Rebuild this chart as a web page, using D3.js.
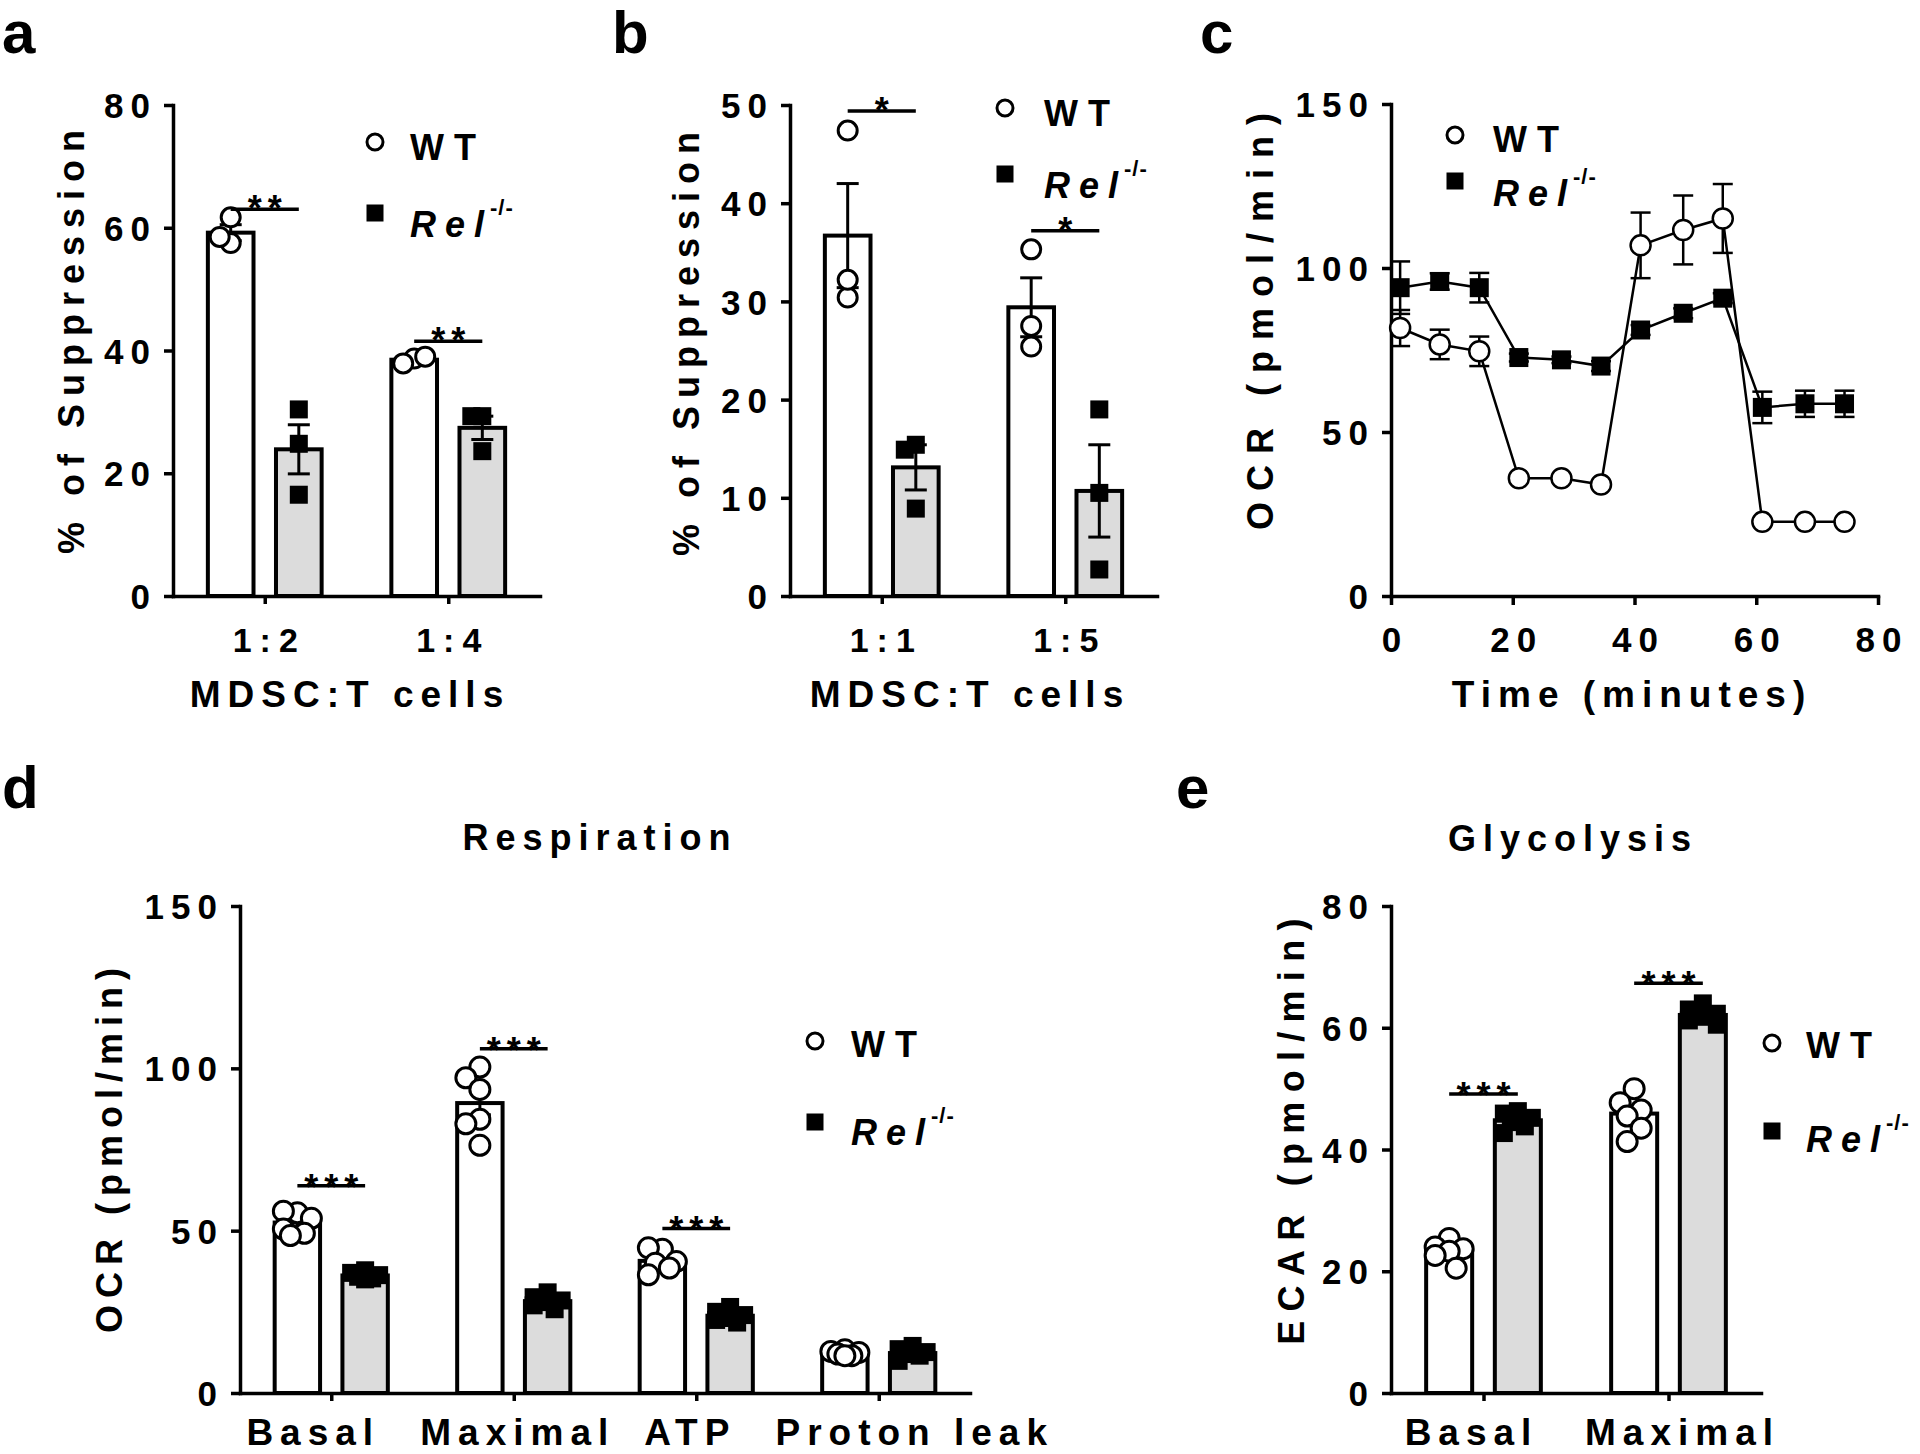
<!DOCTYPE html>
<html><head><meta charset="utf-8">
<script src="https://cdn.jsdelivr.net/npm/d3@7"></script>
<style>html,body{margin:0;padding:0;background:#fff;} svg{display:block;}</style>
</head><body><svg id="fig" width="1920" height="1454"></svg>
<script>
// ================= DATA =================
const seriesNames = ["WT", "Rel"];

// panel a
const aGroups = ["1:2", "1:4"];
const aTicks = [0, 20, 40, 60, 80];
const aWTMean = [59.2, 38.5];
const aWTSem = [1.3, 0.4];
const aWTPoints = [[61.7, 57.5, 58.5], [38.7, 37.9, 39.0]];
const aRelMean = [23.9, 27.4];
const aRelSem = [4.0, 1.9];
const aRelPoints = [[30.4, 24.8, 16.5], [29.3, 29.3, 23.6]];
const aSig = ["**", "**"];
const aSigY = [63, 41.5];

// panel b
const bGroups = ["1:1", "1:5"];
const bTicks = [0, 10, 20, 30, 40, 50];
const bWTMean = [36.7, 29.4];
const bWTSem = [5.3, 3.0];
const bWTPoints = [[47.4, 30.4, 32.2], [35.3, 25.4, 27.5]];
const bRelMean = [13.1, 10.7];
const bRelSem = [2.3, 4.7];
const bRelPoints = [[15.4, 14.9, 8.9], [19.0, 10.5, 2.7]];
const bSig = ["*", "*"];
const bSigY = [49.4, 37.2];

// panel c
const cTime = [1.5, 8, 14.5, 21, 28, 34.5, 41, 48, 54.5, 61, 68, 74.5];
const cXTicks = [0, 20, 40, 60, 80];
const cYTicks = [0, 50, 100, 150];
const cWT = [81.7, 76.7, 74.6, 35.9, 35.9, 34.0, 106.9, 111.6, 115.1, 22.6, 22.6, 22.6];
const cWTErr = [5.5, 4.5, 4.5, 1.0, 1.0, 1.0, 10.0, 10.5, 10.5, 0.8, 0.8, 0.8];
const cRel = [94.0, 95.9, 94.0, 72.7, 72.0, 70.1, 81.1, 86.2, 90.8, 57.5, 58.6, 58.6];
const cRelErr = [8.0, 2.5, 4.5, 1.2, 1.0, 1.5, 1.5, 1.5, 1.5, 4.8, 4.0, 4.0];

// panel d
const dGroups = ["Basal", "Maximal", "ATP", "Proton leak"];
const dTicks = [0, 50, 100, 150];
const dWTMean = [52.5, 89.3, 40.7, 12.3];
const dWTSem = [1.3, 3.6, 1.5, 0.4];
const dWTPoints = [[55.5, 56.0, 53.8, 50.5, 49.2, 48.5], [100.4, 97.1, 93.5, 84.3, 82.9, 76.3],
                   [44.3, 44.7, 40.5, 40.0, 38.5, 36.4], [13.3, 12.8, 12.5, 12.0, 11.5, 11.5]];
const dRelMean = [36.2, 28.3, 23.8, 12.3];
const dRelSem = [0.5, 1.0, 0.8, 0.6];
const dRelPoints = [[37.8, 37.0, 36.3, 35.8, 35.3, 35.0], [31.0, 29.5, 28.5, 28.0, 27.0, 25.8],
                    [26.5, 25.0, 24.0, 23.1, 22.5, 21.7], [14.5, 13.5, 12.6, 12.0, 11.5, 9.9]];
const dSig = ["***", "***", "***", ""];
const dSigY = [63.8, 106, 50.7, null];

// panel e
const eGroups = ["Basal", "Maximal"];
const eTicks = [0, 20, 40, 60, 80];
const eWTMean = [23.3, 45.9];
const eWTSem = [0.7, 1.3];
const eWTPoints = [[25.4, 24.0, 23.7, 23.3, 22.6, 20.5], [50.0, 47.7, 46.5, 45.5, 43.5, 41.3]];
const eRelMean = [44.8, 62.1];
const eRelSem = [0.5, 0.5];
const eRelPoints = [[46.3, 45.9, 45.2, 44.5, 43.8, 42.7], [64.0, 63.0, 62.3, 61.8, 61.2, 60.5]];
const eSig = ["***", "***"];
const eSigY = [49.1, 67.3];

// ================= DRAWING =================
const FONT = '"Liberation Sans", Arial, Helvetica, sans-serif';
const svg = d3.select("#fig");
svg.append("rect").attr("width", 1920).attr("height", 1454).attr("fill", "#fff");

function addText(g, x, y, s, size, ls, anchor) {
  return g.append("text").attr("x", x).attr("y", y)
    .attr("font-family", FONT).attr("font-weight", "bold")
    .attr("font-size", size).attr("letter-spacing", ls)
    .attr("text-anchor", anchor || "start").attr("fill", "#000").text(s);
}

function yTitle(g, x, y, s, ls) {
  g.append("text").attr("transform", `translate(${x},${y}) rotate(-90)`)
    .attr("font-family", FONT).attr("font-weight", "bold")
    .attr("font-size", 36).attr("letter-spacing", ls)
    .attr("text-anchor", "middle").attr("fill", "#000").text(s);
}

function legend(g, L) {
  g.append("circle").attr("cx", L.mx).attr("cy", L.cy).attr("r", 8)
    .attr("fill", "#fff").attr("stroke", "#000").attr("stroke-width", 3);
  g.append("rect").attr("x", L.mx - 8.5).attr("y", L.sy - 8.5).attr("width", 17).attr("height", 17).attr("fill", "#000");
  addText(g, L.tx, L.wtBase, seriesNames[0], 36, 10);
  const t = addText(g, L.tx, L.relBase, "", 36, 9);
  t.append("tspan").attr("font-style", "italic").text(seriesNames[1]);
  t.append("tspan").attr("font-size", 22).attr("letter-spacing", 1).attr("dy", -22).attr("dx", -3).text("-/-");
}

function swarm(vals, y, spread, steps, r) {
  const placed = [];
  const cands = [0];
  for (let k = 1; k <= steps; k++) cands.push(-k * spread, k * spread);
  return vals.map(v => {
    const py = y(v);
    let best = 0, bestD = -1;
    for (const c of cands) {
      let md = Infinity;
      for (const p of placed) md = Math.min(md, Math.hypot(p.dx - c, p.py - py));
      if (md >= 2 * r * 0.9) { best = c; bestD = md; break; }
      if (md > bestD) { bestD = md; best = c; }
    }
    placed.push({ dx: best, py });
    return { v, dx: best };
  });
}

function styleAxis(ax) {
  ax.attr("font-size", null).attr("font-family", null);
  ax.selectAll("path, line").attr("stroke", "#000").attr("stroke-width", 3.5);
  ax.select("path.domain").attr("stroke-linecap", "square");
}

function barPanel(D, L) {
  const g = svg.append("g");
  const y = d3.scaleLinear().domain([0, d3.max(D.ticks)]).range([L.yBot, L.yTop]);
  const x = d3.scalePoint().domain(D.groups).range([L.axisX, L.xEnd]).padding(0.5);
  const step = x.step();
  const xs = d3.scaleBand().domain(seriesNames).range([-0.31 * step, 0.31 * step]).paddingInner(0.33);
  const bw = xs.bandwidth();

  const rows = [];
  D.groups.forEach((grp, i) => {
    rows.push({ g: grp, s: "WT", mean: D.wtMean[i], sem: D.wtSem[i], pts: D.wtPts[i] });
    rows.push({ g: grp, s: "Rel", mean: D.relMean[i], sem: D.relSem[i], pts: D.relPts[i] });
  });
  const cx = d => x(d.g) + xs(d.s) + bw / 2;

  // bars
  g.selectAll("rect.bar").data(rows).join("rect").attr("class", "bar")
    .attr("x", d => x(d.g) + xs(d.s)).attr("width", bw)
    .attr("y", d => y(d.mean)).attr("height", d => y(0) - y(d.mean))
    .attr("fill", d => d.s === "WT" ? "#fff" : "#dcdcdc")
    .attr("stroke", "#000").attr("stroke-width", 4);

  // axes
  const ya = g.append("g").attr("transform", `translate(${L.axisX},0)`)
    .call(d3.axisLeft(y).tickValues(D.ticks).tickSize(9).tickSizeOuter(0).tickPadding(7));
  styleAxis(ya);
  ya.selectAll("text").attr("font-family", FONT).attr("font-weight", "bold")
    .attr("font-size", L.tickFont).attr("letter-spacing", 7).attr("dy", "0.36em").attr("fill", "#000");
  const xa = g.append("g").attr("transform", `translate(0,${L.yBot})`)
    .call(d3.axisBottom(x).tickSize(8).tickSizeOuter(0));
  styleAxis(xa);
  xa.selectAll("text").attr("font-family", FONT).attr("font-weight", "bold")
    .attr("font-size", L.catFont).attr("letter-spacing", L.catLS).attr("fill", "#000")
    .attr("y", L.catBase).attr("dy", null)
    .attr("dx", (d, i) => L.catLS / 2 + (L.catDx ? L.catDx[i] : 0));

  // error bars
  const eb = g.append("g").attr("stroke", "#000").attr("stroke-width", 3);
  rows.forEach(d => {
    const c = cx(d);
    eb.append("line").attr("x1", c).attr("x2", c).attr("y1", y(d.mean - d.sem)).attr("y2", y(d.mean + d.sem));
    [d.mean - d.sem, d.mean + d.sem].forEach(v => {
      eb.append("line").attr("x1", c - L.cap / 2).attr("x2", c + L.cap / 2).attr("y1", y(v)).attr("y2", y(v));
    });
  });

  // points
  rows.forEach(d => {
    const c = cx(d);
    const pts = swarm(d.pts, y, L.spread, L.steps, L.r);
    if (d.s === "WT") {
      g.append("g").selectAll("circle").data(pts).join("circle")
        .attr("cx", p => c + p.dx).attr("cy", p => y(p.v)).attr("r", L.r)
        .attr("fill", "#fff").attr("stroke", "#000").attr("stroke-width", 3);
    } else {
      g.append("g").selectAll("rect").data(pts).join("rect")
        .attr("x", p => c + p.dx - L.sq / 2).attr("y", p => y(p.v) - L.sq / 2)
        .attr("width", L.sq).attr("height", L.sq).attr("fill", "#000");
    }
  });

  // significance
  D.groups.forEach((grp, i) => {
    if (!D.sig[i]) return;
    const x1 = x(grp) + xs("WT") + bw / 2, x2 = x(grp) + xs("Rel") + bw / 2;
    const yy = y(D.sigY[i]);
    g.append("line").attr("x1", x1).attr("x2", x2).attr("y1", yy).attr("y2", yy)
      .attr("stroke", "#000").attr("stroke-width", 3.5);
    addText(g, (x1 + x2) / 2 + 3, yy + L.starOff, D.sig[i], 36, 6, "middle");
  });
  return g;
}

// ---------- panel a ----------
const LA = { axisX: 173, xEnd: 540, yTop: 105, yBot: 596, tickFont: 35, catFont: 34, catLS: 8, catBase: 56,
  cap: 22, r: 9.5, sq: 18, spread: 11, steps: 1, starOff: 12 };
const ga = barPanel({ groups: aGroups, ticks: aTicks, wtMean: aWTMean, wtSem: aWTSem, wtPts: aWTPoints,
  relMean: aRelMean, relSem: aRelSem, relPts: aRelPoints, sig: aSig, sigY: aSigY }, LA);
addText(ga, 2, 53, "a", 60, 0);
yTitle(ga, 84, 338, "% of Suppression", 8);
addText(ga, 350, 707, "MDSC:T cells", 37, 7, "middle");
legend(ga, { mx: 375, cy: 142, sy: 213, tx: 410, wtBase: 160, relBase: 237 });

// ---------- panel b ----------
const LB = Object.assign({}, LA, { axisX: 790, xEnd: 1157 });
const gb = barPanel({ groups: bGroups, ticks: bTicks, wtMean: bWTMean, wtSem: bWTSem, wtPts: bWTPoints,
  relMean: bRelMean, relSem: bRelSem, relPts: bRelPoints, sig: bSig, sigY: bSigY }, LB);
addText(gb, 612, 53, "b", 60, 0);
yTitle(gb, 699, 340, "% of Suppression", 8);
addText(gb, 970, 707, "MDSC:T cells", 37, 7, "middle");
legend(gb, { mx: 1005, cy: 108, sy: 174, tx: 1044, wtBase: 126, relBase: 198 });

// ---------- panel c ----------
(function () {
  const g = svg.append("g");
  const L = { axisX: 1391, xEnd: 1878, yTop: 104, yBot: 596 };
  const x = d3.scaleLinear().domain([0, d3.max(cXTicks)]).range([L.axisX, L.xEnd]);
  const y = d3.scaleLinear().domain([0, d3.max(cYTicks)]).range([L.yBot, L.yTop]);
  const ya = g.append("g").attr("transform", `translate(${L.axisX},0)`)
    .call(d3.axisLeft(y).tickValues(cYTicks).tickSize(9).tickSizeOuter(0).tickPadding(7));
  styleAxis(ya);
  ya.selectAll("text").attr("font-family", FONT).attr("font-weight", "bold")
    .attr("font-size", 35).attr("letter-spacing", 7).attr("dy", "0.36em").attr("fill", "#000");
  const xa = g.append("g").attr("transform", `translate(0,${L.yBot})`)
    .call(d3.axisBottom(x).tickValues(cXTicks).tickSize(9).tickSizeOuter(0));
  styleAxis(xa);
  xa.selectAll("text").attr("font-family", FONT).attr("font-weight", "bold")
    .attr("font-size", 35).attr("letter-spacing", 7).attr("fill", "#000")
    .attr("y", 56).attr("dy", null).attr("dx", 3.5);

  const series = [
    { name: "Rel", v: cRel, e: cRelErr },
    { name: "WT", v: cWT, e: cWTErr }
  ];
  const line = d3.line().x(d => x(d.t)).y(d => y(d.v));
  series.forEach(s => {
    const pts = cTime.map((t, i) => ({ t, v: s.v[i], e: s.e[i] }));
    const eb = g.append("g").attr("stroke", "#000").attr("stroke-width", 2.5);
    pts.forEach(p => {
      eb.append("line").attr("x1", x(p.t)).attr("x2", x(p.t)).attr("y1", y(p.v - p.e)).attr("y2", y(p.v + p.e));
      [p.v - p.e, p.v + p.e].forEach(v => eb.append("line").attr("x1", x(p.t) - 10).attr("x2", x(p.t) + 10).attr("y1", y(v)).attr("y2", y(v)));
    });
    g.append("path").datum(pts).attr("d", line).attr("fill", "none").attr("stroke", "#000").attr("stroke-width", 2.5);
    if (s.name === "WT") {
      g.append("g").selectAll("circle").data(pts).join("circle")
        .attr("cx", p => x(p.t)).attr("cy", p => y(p.v)).attr("r", 10)
        .attr("fill", "#fff").attr("stroke", "#000").attr("stroke-width", 2.5);
    } else {
      g.append("g").selectAll("rect").data(pts).join("rect")
        .attr("x", p => x(p.t) - 9.5).attr("y", p => y(p.v) - 9.5).attr("width", 19).attr("height", 19).attr("fill", "#000");
    }
  });
  addText(g, 1200, 53, "c", 60, 0);
  yTitle(g, 1273, 316, "OCR (pmol/min)", 11);
  addText(g, 1632, 707, "Time (minutes)", 37, 7, "middle");
  legend(g, { mx: 1455, cy: 135, sy: 181, tx: 1493, wtBase: 152, relBase: 206 });
})();

// ---------- panel d ----------
const LD = { axisX: 240, xEnd: 970, yTop: 906, yBot: 1393, tickFont: 35, catFont: 37, catLS: 7, catBase: 52,
  catDx: [-22, 0, -10, 32],
  cap: 22, r: 10, sq: 18, spread: 7, steps: 2, starOff: 14 };
const gd = barPanel({ groups: dGroups, ticks: dTicks, wtMean: dWTMean, wtSem: dWTSem, wtPts: dWTPoints,
  relMean: dRelMean, relSem: dRelSem, relPts: dRelPoints, sig: dSig, sigY: dSigY }, LD);
addText(gd, 2, 808, "d", 60, 0);
yTitle(gd, 122, 1147, "OCR (pmol/min)", 7);
addText(gd, 600, 850, "Respiration", 36, 7, "middle");
legend(gd, { mx: 815, cy: 1041, sy: 1122, tx: 851, wtBase: 1057, relBase: 1145 });

// ---------- panel e ----------
const LE = Object.assign({}, LD, { axisX: 1391, xEnd: 1761, catDx: [-16, 10] });
const ge = barPanel({ groups: eGroups, ticks: eTicks, wtMean: eWTMean, wtSem: eWTSem, wtPts: eWTPoints,
  relMean: eRelMean, relSem: eRelSem, relPts: eRelPoints, sig: eSig, sigY: eSigY }, LE);
addText(ge, 1176, 808, "e", 60, 0);
yTitle(ge, 1304, 1127, "ECAR (pmol/min)", 9.3);
addText(ge, 1573, 851, "Glycolysis", 36, 7, "middle");
legend(ge, { mx: 1772, cy: 1043, sy: 1131, tx: 1806, wtBase: 1058, relBase: 1152 });
</script>
</body></html>
